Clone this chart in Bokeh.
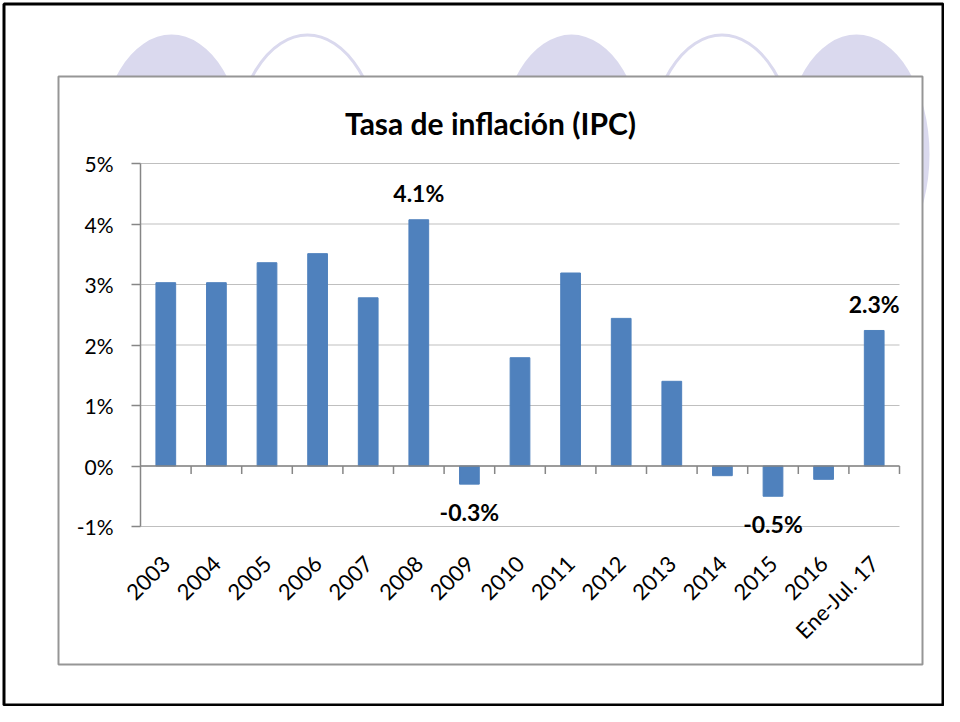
import numpy as np
from bokeh.plotting import figure
from bokeh.models import (ColumnDataSource, Range1d, FixedTicker, PrintfTickFormatter, LabelSet)
from bokeh.core.properties import value
from bokeh.embed import file_html
from bokeh.resources import INLINE

# ---------------- data ----------------
categories = ["2003", "2004", "2005", "2006", "2007", "2008", "2009", "2010",
              "2011", "2012", "2013", "2014", "2015", "2016", "Ene-Jul. 17"]
inflation = [3.03, 3.03, 3.36, 3.51, 2.78, 4.07, -0.30, 1.79,
             3.19, 2.44, 1.40, -0.16, -0.50, -0.22, 2.24]
label_categories = ["2008", "2009", "2015", "Ene-Jul. 17"]
label_texts = ["4.1%", "-0.3%", "-0.5%", "2.3%"]
y_ticks = [-1, 0, 1, 2, 3, 4, 5]
title_text = "Tasa de inflación (IPC)"

# ---------------- layout ----------------
W, H = 944, 706
FL, FR, FT, FB = 140, 899, 163, 526          # chart area edges (canvas px)
N = len(categories)
YMIN, YMAX = y_ticks[0], y_ticks[-1]
XU = (FR - FL) / N                            # px per category
YU = (FB - FT) / (YMAX - YMIN)                # px per percentage point

FONT = "Lato"
BAR = "#4F81BD"
AXIS = "#868686"
GRID = "#BFBFBF"
LAV = "#DAD9EE"

# the plot frame fills the whole canvas; the axes sit at fixed locations inside it
p = figure(width=W, height=H,
           x_range=Range1d(-FL / XU, N + (W - FR) / XU),
           y_range=Range1d(YMIN - (H - FB) / YU, YMAX + FT / YU),
           output_backend="svg", toolbar_location=None,
           min_border=0, min_border_left=0, min_border_right=0,
           min_border_top=0, min_border_bottom=0)
p.title.visible = False
p.background_fill_color = "white"
p.border_fill_color = "white"
p.outline_line_color = None
p.grid.visible = False

# pixel ranges for the slide decorations
p.extra_x_ranges = {"px": Range1d(0, W)}
p.extra_y_ranges = {"px": Range1d(0, H)}


def Y(yp):  # canvas y (from top) -> px-range y
    return H - yp


PX = dict(x_range_name="px", y_range_name="px")

# ---------------- slide decorations ----------------
EW, EH = 146, 240
for xc in (171, 571, 856):                      # filled half-hidden ovals
    p.ellipse(x=[xc], y=[Y(34 + EH / 2)], width=[EW], height=[EH],
              fill_color=LAV, line_color=None, **PX)
for xc in (307, 721.5):                         # outlined ovals
    p.ellipse(x=[xc], y=[Y(34.5 + EH / 2)], width=[EW], height=[EH],
              fill_color="white", line_color=LAV, line_width=3, **PX)
# chart box (white, covers the lower part of the ovals)
p.quad(left=[58], right=[922], top=[Y(76)], bottom=[Y(664)],
       fill_color="white", line_color="#969696", line_width=2, **PX)
# outer slide border
p.quad(left=[3.5], right=[W - 1.5], top=[Y(3.5)], bottom=[Y(H - 1.5)],
       fill_color=None, line_color="black", line_width=3, **PX)
# title
p.text(x=[490], y=[Y(122)], text=[title_text], text_font=value(FONT),
       text_font_style="bold", text_font_size="30px", text_align="center",
       text_baseline="alphabetic", text_color="black", **PX)

# ---------------- chart ----------------
centers = [i + 0.5 for i in range(N)]

# horizontal gridlines (limited to the chart area)
p.segment(x0=[0] * len(y_ticks), x1=[N] * len(y_ticks), y0=y_ticks, y1=y_ticks,
          line_color=GRID, line_width=1.2)

# bars
src = ColumnDataSource(dict(x=centers, cat=categories, val=inflation))
p.vbar(x="x", top="val", bottom=0, width=0.39, source=src,
       fill_color=BAR, line_color=BAR)

# zero line + category boundary ticks
p.segment(x0=[0], x1=[N], y0=[0], y1=[0], line_color=AXIS, line_width=1.5)
bounds = list(range(1, N + 1))
tick_len = 8 / YU
p.segment(x0=bounds, y0=[0] * len(bounds), x1=bounds, y1=[-tick_len] * len(bounds),
          line_color=AXIS, line_width=1.5)

# axes
p.yaxis.fixed_location = 0
p.yaxis.bounds = (YMIN, YMAX)
p.yaxis.ticker = FixedTicker(ticks=y_ticks)
p.yaxis.formatter = PrintfTickFormatter(format="%d%%")
p.yaxis.axis_line_color = AXIS
p.yaxis.axis_line_width = 1.5
p.yaxis.major_tick_line_color = AXIS
p.yaxis.major_tick_line_width = 1.5
p.yaxis.major_tick_out = 9
p.yaxis.major_tick_in = 0
p.yaxis.minor_tick_line_color = None
p.yaxis.major_label_standoff = 18
p.yaxis.major_label_text_font = FONT
p.yaxis.major_label_text_font_size = "21px"
p.yaxis.major_label_text_color = "black"

p.xaxis.fixed_location = YMIN
p.xaxis.bounds = (0, N)
p.xaxis.ticker = FixedTicker(ticks=centers)
p.xaxis.major_label_overrides = {c: lab for c, lab in zip(centers, categories)}
p.xaxis.axis_line_color = None
p.xaxis.major_tick_line_color = None
p.xaxis.minor_tick_line_color = None
p.xaxis.major_label_orientation = np.pi / 4
p.xaxis.major_label_standoff = 27
p.xaxis.major_label_text_font = FONT
p.xaxis.major_label_text_font_size = "22px"
p.xaxis.major_label_text_color = "black"

# data labels
lab_x = [categories.index(c) + 0.5 for c in label_categories]
lab_vals = [inflation[categories.index(c)] for c in label_categories]
lab_off = [17.5 if v >= 0 else -36.5 for v in lab_vals]
lsrc = ColumnDataSource(dict(x=lab_x, val=lab_vals, txt=label_texts, off=lab_off))
p.add_layout(LabelSet(x="x", y="val", text="txt", y_offset="off", source=lsrc,
                      text_align="center", text_baseline="alphabetic",
                      text_font=value(FONT), text_font_style="bold",
                      text_font_size="23px", text_color="black"))

open("out.html", "w").write(file_html(p, INLINE))
